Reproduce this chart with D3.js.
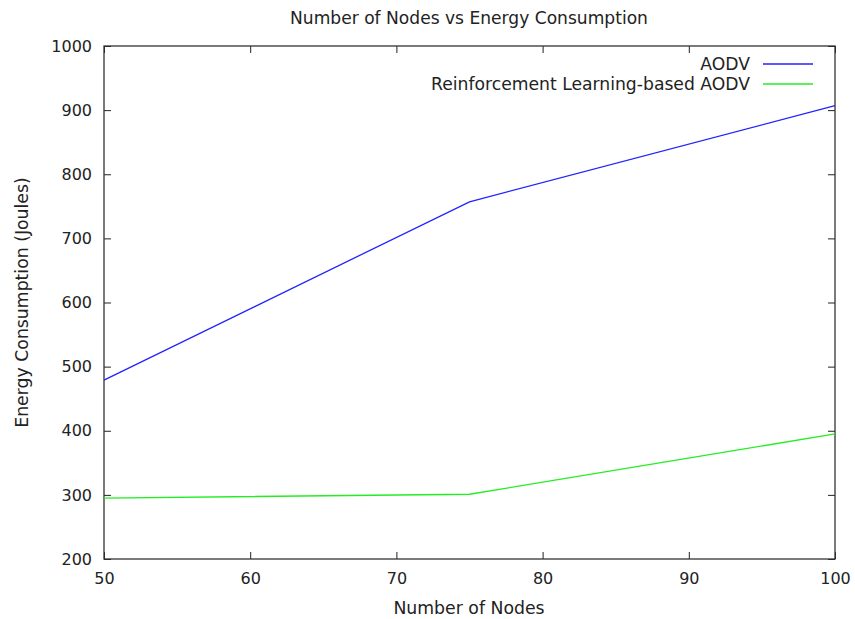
<!DOCTYPE html>
<html>
<head>
<meta charset="utf-8">
<script src="https://cdn.jsdelivr.net/npm/d3@7"></script>
<style>
  body { margin: 0; background: #fff; }
  svg text { font-family: "DejaVu Sans", sans-serif; fill: #222; }
</style>
</head>
<body>
<div id="chart"></div>
<script>
// data
const NODES = [50, 75, 100]
const AODV = [479, 757, 907]
const RL_AODV = [295, 301, 395]
const SERIES_NAMES = ["AODV", "Reinforcement Learning-based AODV"]
const SERIES_COLORS = ["#2222ff", "#22ee22"]
const X_TICKS = [50, 60, 70, 80, 90, 100]
const Y_TICKS = [200, 300, 400, 500, 600, 700, 800, 900, 1000]

const WIDTH = 855
const HEIGHT = 619
const LEFT = 104
const RIGHT = 835
const TOP = 46
const BOTTOM = 559
const TICK = 7

const xScale = d3.scaleLinear().domain([50, 100]).range([LEFT, RIGHT])
const yScale = d3.scaleLinear().domain([200, 1000]).range([BOTTOM, TOP])

const svg = d3.select("#chart")
  .append("svg")
  .attr("width", WIDTH)
  .attr("height", HEIGHT)

// axes, gnuplot style: ticks inside, mirrored on all four sides
svg.append("g")
  .attr("transform", `translate(0,${BOTTOM})`)
  .call(d3.axisBottom(xScale).tickValues(X_TICKS).tickSize(-TICK).tickPadding(14).tickFormat(d3.format("d")))
svg.append("g")
  .attr("transform", `translate(0,${TOP})`)
  .call(d3.axisTop(xScale).tickValues(X_TICKS).tickSize(-TICK).tickFormat(""))
svg.append("g")
  .attr("transform", `translate(${LEFT},0)`)
  .call(d3.axisLeft(yScale).tickValues(Y_TICKS).tickSize(-TICK).tickPadding(12).tickFormat(d3.format("d")))
svg.append("g")
  .attr("transform", `translate(${RIGHT},0)`)
  .call(d3.axisRight(yScale).tickValues(Y_TICKS).tickSize(-TICK).tickFormat(""))

svg.selectAll(".domain").remove()
svg.selectAll(".tick line").attr("stroke", "#222")
svg.selectAll(".tick text")
  .style("font-size", "16px")
  .style("font-family", "DejaVu Sans, sans-serif")
  .attr("fill", "#222")

svg.append("rect")
  .attr("x", LEFT)
  .attr("y", TOP)
  .attr("width", RIGHT - LEFT)
  .attr("height", BOTTOM - TOP)
  .attr("fill", "none")
  .attr("stroke", "#333")
  .attr("stroke-width", 1.3)

const line = d3.line()
  .x((d, i) => xScale(NODES[i]))
  .y((d) => yScale(d))

;[AODV, RL_AODV].forEach((vals, k) => {
  svg.append("path")
    .datum(vals)
    .attr("d", line)
    .attr("fill", "none")
    .attr("stroke", SERIES_COLORS[k])
    .attr("stroke-width", 1.3)
})

// legend
SERIES_NAMES.forEach((name, k) => {
  const y = 64 + k * 20
  svg.append("text")
    .attr("x", 750)
    .attr("y", y)
    .attr("dy", "0.35em")
    .attr("text-anchor", "end")
    .style("font-size", "17.2px")
    .text(name)
  svg.append("line")
    .attr("x1", 763).attr("x2", 813)
    .attr("y1", y).attr("y2", y)
    .attr("stroke", SERIES_COLORS[k])
    .attr("stroke-width", 1.3)
})

svg.append("text")
  .attr("x", 469)
  .attr("y", 18)
  .attr("dy", "0.35em")
  .attr("text-anchor", "middle")
  .style("font-size", "17.1px")
  .text("Number of Nodes vs Energy Consumption")

svg.append("text")
  .attr("x", 469)
  .attr("y", 608)
  .attr("dy", "0.35em")
  .attr("text-anchor", "middle")
  .style("font-size", "17.3px")
  .text("Number of Nodes")

svg.append("text")
  .attr("transform", `translate(22,${(TOP + BOTTOM) / 2}) rotate(-90)`)
  .attr("dy", "0.35em")
  .attr("text-anchor", "middle")
  .style("font-size", "17.3px")
  .text("Energy Consumption (Joules)")
</script>
</body>
</html>
